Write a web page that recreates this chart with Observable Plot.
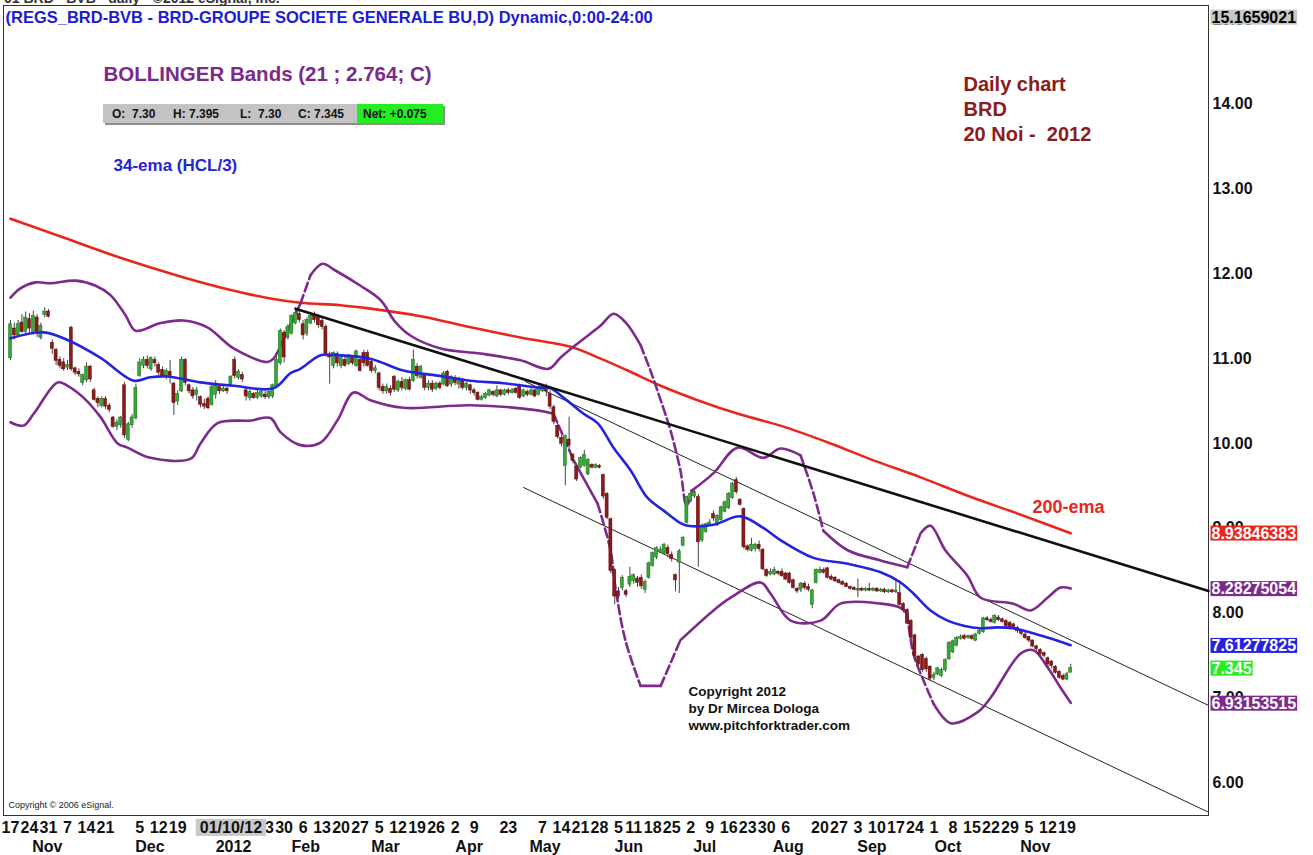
<!DOCTYPE html>
<html><head><meta charset="utf-8">
<script src="https://cdn.jsdelivr.net/npm/d3@7"></script>
<script src="https://cdn.jsdelivr.net/npm/@observablehq/plot@0.6"></script>
<style>
body{margin:0;background:#fff;}
#wrap{position:relative;width:1313px;height:855px;overflow:hidden;font-family:"Liberation Sans",Arial,sans-serif;background:#fff;}
#wrap svg{position:absolute;left:0;top:0;}
#topcut{position:absolute;left:4px;top:-10px;font-size:14px;font-weight:bold;color:#333;white-space:pre;}
#ohlc{position:absolute;left:103px;top:104px;width:340px;height:19px;background:#c3c3c3;box-shadow:2px 2px 0 #8d8d8d;font-size:12px;font-weight:bold;color:#111;}
#ohlc span{position:absolute;top:3px;white-space:pre;}
#ohlc .net{position:absolute;left:254px;top:0;width:86px;height:19px;background:#22ee22;}
g[aria-label="y-axis tick label"]{font-weight:bold;}
</style></head>
<body>
<div id="wrap">
  <div id="topcut">01 BRD - BVB - daily - ©2012 eSignal, Inc.</div>
</div>
<script>
// ---- daily candles (bar index 0 = 17 Oct 2011 ... 279 = 20 Nov 2012) ----
const open = [
11.01,11.35,11.28,11.42,11.32,11.46,11.32,11.48,11.25,11.52,
11.55,11.18,11.10,10.98,10.95,10.90,11.36,10.88,10.84,10.72,
10.75,10.90,10.62,10.52,10.45,10.52,10.44,10.30,10.20,10.22,
10.68,10.05,10.22,10.30,10.80,10.92,10.98,10.88,10.98,10.92,
10.86,10.80,10.84,10.70,10.50,10.62,10.98,10.68,10.62,10.58,
10.54,10.46,10.52,10.46,10.58,10.66,10.62,10.64,10.68,10.98,
10.78,10.80,10.62,10.54,10.58,10.54,10.56,10.57,10.55,10.56,
10.68,10.95,11.30,11.25,11.30,11.42,11.52,11.40,11.30,11.42,
11.50,11.48,11.44,11.37,11.04,10.92,11.05,10.92,10.98,10.94,
11.00,10.92,10.98,11.06,11.06,10.96,10.86,10.82,10.66,10.62,
10.64,10.78,10.63,10.72,10.65,10.74,10.74,10.90,10.78,10.80,
10.66,10.70,10.65,10.70,10.70,10.84,10.70,10.76,10.70,10.74,
10.66,10.68,10.62,10.59,10.52,10.54,10.57,10.60,10.56,10.62,
10.58,10.62,10.60,10.64,10.68,10.56,10.60,10.58,10.62,10.58,
10.62,10.66,10.58,10.42,10.20,10.06,9.74,10.04,9.86,9.72,
9.72,9.74,9.64,9.74,9.72,9.73,9.62,9.40,9.10,8.50,
8.25,8.30,8.25,8.34,8.38,8.40,8.41,8.28,8.42,8.56,
8.66,8.72,8.70,8.76,8.68,8.44,8.60,8.80,9.07,9.32,
9.38,9.36,8.86,8.96,9.04,9.16,9.04,9.10,9.20,9.24,
9.36,9.56,9.33,9.22,8.78,8.74,8.76,8.80,8.74,8.50,
8.46,8.46,8.48,8.48,8.46,8.46,8.38,8.28,8.28,8.34,
8.30,8.10,8.36,8.48,8.50,8.52,8.42,8.41,8.38,8.36,
8.34,8.30,8.29,8.27,8.28,8.27,8.28,8.27,8.28,8.26,
8.27,8.25,8.26,8.25,8.23,8.10,8.03,7.90,7.73,7.48,
7.50,7.45,7.36,7.24,7.28,7.26,7.33,7.46,7.54,7.62,
7.70,7.72,7.71,7.72,7.68,7.76,7.78,7.93,7.91,7.89,
7.94,7.92,7.90,7.88,7.86,7.82,7.78,7.74,7.71,7.67,
7.60,7.56,7.52,7.46,7.42,7.36,7.30,7.25,7.22,7.30];
const high = [
11.45,11.42,11.45,11.52,11.55,11.53,11.56,11.52,11.42,11.60,
11.58,11.22,11.12,11.02,11.00,10.98,11.38,10.90,10.88,10.82,
10.95,10.92,10.65,10.55,10.55,10.55,10.47,10.32,10.28,10.32,
10.72,10.25,10.34,10.70,11.00,11.02,11.03,11.02,11.02,10.95,
10.90,10.88,10.98,10.72,10.62,11.02,11.00,10.70,10.66,10.66,
10.56,10.52,10.55,10.70,10.74,10.68,10.68,10.66,10.80,11.02,
10.87,10.84,10.65,10.63,10.60,10.62,10.62,10.61,10.62,10.70,
11.02,11.35,11.33,11.40,11.52,11.60,11.56,11.45,11.48,11.54,
11.55,11.52,11.49,11.40,11.08,11.08,11.08,11.04,11.02,11.05,
11.03,11.10,11.02,11.10,11.10,11.00,10.92,10.84,10.70,10.70,
10.68,10.80,10.75,10.78,10.76,10.78,11.10,10.94,10.92,10.82,
10.74,10.74,10.72,10.73,10.85,10.86,10.80,10.80,10.78,10.77,
10.72,10.70,10.65,10.61,10.57,10.60,10.64,10.62,10.68,10.64,
10.64,10.65,10.65,10.66,10.70,10.64,10.63,10.66,10.64,10.68,
10.70,10.70,10.62,10.45,10.24,10.10,10.10,10.31,9.88,9.74,
9.84,9.92,9.82,9.76,9.76,9.75,9.64,9.42,9.12,8.52,
8.30,8.44,8.28,8.54,8.46,8.43,8.45,8.39,8.60,8.72,
8.78,8.78,8.82,8.80,8.72,8.46,8.75,8.90,9.38,9.45,
9.45,9.40,9.05,9.06,9.10,9.20,9.16,9.26,9.32,9.42,
9.54,9.60,9.35,9.24,8.80,8.88,8.82,8.85,8.76,8.52,
8.52,8.54,8.50,8.52,8.48,8.48,8.40,8.30,8.36,8.37,
8.34,8.28,8.52,8.54,8.53,8.54,8.45,8.43,8.40,8.38,
8.36,8.32,8.31,8.40,8.30,8.30,8.35,8.30,8.30,8.29,
8.29,8.28,8.28,8.40,8.38,8.12,8.05,7.92,7.75,7.50,
7.52,7.48,7.38,7.30,7.36,7.35,7.46,7.66,7.68,7.72,
7.74,7.75,7.74,7.74,7.76,7.81,7.95,7.96,7.94,7.98,
7.97,7.94,7.92,7.90,7.88,7.84,7.80,7.78,7.72,7.68,
7.62,7.58,7.54,7.48,7.44,7.38,7.32,7.28,7.30,7.395];
const low = [
10.98,11.22,11.25,11.30,11.28,11.30,11.28,11.25,11.22,11.48,
11.48,11.05,10.92,10.88,10.85,10.86,10.85,10.80,10.78,10.68,
10.72,10.72,10.50,10.42,10.42,10.40,10.36,10.18,10.15,10.18,
10.06,10.02,10.18,10.28,10.78,10.88,10.88,10.85,10.90,10.80,
10.78,10.75,10.70,10.33,10.45,10.60,10.68,10.58,10.52,10.50,
10.42,10.40,10.40,10.44,10.52,10.58,10.60,10.58,10.66,10.76,
10.75,10.72,10.50,10.50,10.52,10.52,10.53,10.52,10.52,10.53,
10.66,10.92,10.95,11.22,11.28,11.40,11.42,11.22,11.26,11.40,
11.42,11.36,11.34,11.02,10.70,10.88,10.90,10.88,10.90,10.92,
10.92,10.90,10.84,10.90,10.90,10.83,10.82,10.62,10.58,10.58,
10.56,10.60,10.60,10.62,10.62,10.62,10.72,10.76,10.76,10.62,
10.62,10.60,10.62,10.63,10.68,10.66,10.66,10.68,10.64,10.63,
10.62,10.58,10.56,10.50,10.50,10.52,10.55,10.55,10.54,10.55,
10.56,10.57,10.58,10.58,10.52,10.54,10.55,10.56,10.54,10.56,
10.60,10.55,10.40,10.22,10.05,9.96,9.50,9.94,9.76,9.55,
9.70,9.72,9.62,9.70,9.70,9.70,9.34,9.10,8.46,8.10,
8.16,8.26,8.18,8.30,8.34,8.30,8.28,8.23,8.40,8.54,
8.63,8.70,8.68,8.65,8.60,8.25,8.23,8.78,9.05,9.30,
9.35,8.54,8.83,8.94,9.02,9.08,9.02,9.08,9.18,9.22,
9.34,9.40,9.26,8.75,8.72,8.72,8.72,8.72,8.50,8.42,
8.44,8.44,8.44,8.42,8.38,8.34,8.28,8.23,8.24,8.27,
8.25,8.05,8.34,8.46,8.46,8.40,8.38,8.36,8.34,8.32,
8.30,8.27,8.26,8.18,8.25,8.25,8.25,8.25,8.24,8.24,
8.23,8.23,8.23,8.23,8.08,8.00,7.86,7.68,7.46,7.36,
7.30,7.30,7.20,7.20,7.26,7.24,7.30,7.44,7.52,7.60,
7.68,7.68,7.69,7.68,7.66,7.74,7.76,7.90,7.88,7.87,
7.90,7.88,7.83,7.80,7.80,7.76,7.73,7.69,7.65,7.59,
7.55,7.49,7.47,7.36,7.34,7.28,7.22,7.20,7.20,7.30];
const close = [
11.40,11.28,11.40,11.32,11.48,11.36,11.50,11.30,11.38,11.55,
11.50,11.12,10.98,10.92,10.88,10.92,10.88,10.84,10.82,10.80,
10.90,10.76,10.52,10.48,10.52,10.44,10.40,10.20,10.24,10.30,
10.10,10.22,10.30,10.65,10.95,10.98,10.92,11.00,10.95,10.84,
10.80,10.85,10.80,10.48,10.58,10.98,10.72,10.62,10.56,10.62,
10.46,10.44,10.42,10.66,10.70,10.62,10.64,10.62,10.78,10.80,
10.84,10.76,10.56,10.60,10.54,10.59,10.60,10.55,10.60,10.68,
10.98,11.32,11.02,11.37,11.50,11.53,11.46,11.28,11.45,11.50,
11.46,11.40,11.38,11.06,11.02,11.06,10.95,11.00,10.92,11.02,
10.95,11.08,10.86,10.95,10.92,10.86,10.88,10.66,10.62,10.66,
10.60,10.64,10.72,10.66,10.74,10.64,10.98,10.80,10.90,10.66,
10.70,10.64,10.70,10.66,10.82,10.68,10.78,10.72,10.76,10.66,
10.70,10.63,10.60,10.52,10.54,10.58,10.62,10.58,10.62,10.58,
10.62,10.60,10.62,10.60,10.54,10.62,10.58,10.62,10.56,10.65,
10.68,10.62,10.44,10.26,10.08,10.00,10.08,9.98,9.80,9.58,
9.82,9.86,9.80,9.72,9.74,9.72,9.38,9.13,8.50,8.20,
8.20,8.41,8.22,8.42,8.44,8.36,8.32,8.36,8.58,8.70,
8.76,8.74,8.80,8.70,8.64,8.39,8.72,8.88,9.36,9.40,
9.42,8.84,9.02,9.04,9.06,9.12,9.14,9.24,9.30,9.40,
9.52,9.43,9.28,8.78,8.75,8.80,8.80,8.76,8.52,8.44,
8.48,8.50,8.47,8.44,8.40,8.36,8.30,8.26,8.34,8.30,
8.28,8.26,8.50,8.50,8.48,8.42,8.40,8.38,8.36,8.34,
8.31,8.29,8.28,8.28,8.27,8.28,8.27,8.28,8.26,8.27,
8.25,8.26,8.25,8.26,8.10,8.04,7.88,7.71,7.50,7.40,
7.33,7.34,7.23,7.26,7.34,7.32,7.44,7.64,7.66,7.70,
7.71,7.70,7.72,7.70,7.74,7.78,7.93,7.92,7.90,7.96,
7.92,7.90,7.85,7.82,7.83,7.79,7.76,7.71,7.68,7.61,
7.58,7.52,7.50,7.40,7.38,7.30,7.24,7.22,7.27,7.345];

// ---- indicator readings [bar index, value] ----
const ema200 = [[0,12.65],[13.2,12.44],[28.9,12.19],[44.7,11.97],[57.1,11.82],[68.4,11.71],[76.3,11.66],[86.8,11.63],[94.7,11.59],[107.9,11.50],[121.1,11.37],[134.2,11.25],[147.4,11.14],[155.3,11.00],[162.4,10.86],[171.1,10.68],[180.8,10.51],[192.1,10.34],[202.6,10.21],[215.8,10.00],[227.1,9.80],[239.5,9.60],[252.6,9.37],[265.8,9.16],[279,8.94]];
const ema34 = [[0,11.24],[8.7,11.31],[15,11.22],[23.7,11.01],[32.4,10.74],[36.8,10.78],[41.3,10.79],[50,10.72],[58.7,10.68],[69.2,10.65],[73.7,10.83],[76.3,10.88],[81.6,11.04],[86,11.04],[94.7,11.00],[103.4,10.86],[112.4,10.80],[121,10.74],[129.7,10.71],[138.7,10.66],[142.1,10.65],[145.5,10.54],[150.8,10.35],[154.5,10.24],[158.7,9.95],[163.2,9.68],[167.6,9.36],[171.8,9.21],[176.3,9.06],[178.2,9.03],[185,9.04],[192.1,9.14],[198.2,9.00],[202.6,8.86],[211.3,8.65],[220.3,8.58],[229,8.48],[234.2,8.36],[237.6,8.23],[242.1,8.03],[246.6,7.91],[250.8,7.85],[255.3,7.82],[259.7,7.83],[263.9,7.82],[268.4,7.77],[272.9,7.71],[279,7.62]];
const bbUpper = [[0,11.72],[2.6,11.83],[6.6,11.90],[10.5,11.89],[17.1,11.92],[22.4,11.86],[26.3,11.75],[30.3,11.51],[32.9,11.33],[39.5,11.42],[45.5,11.45],[51.8,11.37],[58.7,11.12],[67.6,10.96],[69.2,11.00],[72.9,11.33],[76.3,11.65],[78.9,11.98],[82.1,12.12],[85.5,12.04],[92.1,11.86],[97.4,11.69],[101.3,11.43],[105.3,11.27],[113.2,11.12],[123.7,11.06],[134.2,10.98],[141.6,10.88],[144.7,11.01],[148.7,11.16],[155.3,11.39],[158.7,11.53],[161.8,11.43],[165.8,11.16],[168.4,10.86],[171.1,10.51],[173.7,10.15],[176.3,9.68],[177.9,9.27],[179.5,9.45],[185,9.65],[191.3,9.95],[198.2,9.83],[202.6,9.94],[207.9,9.86],[211.3,9.41],[213.9,8.97],[220.3,8.74],[229,8.62],[236,8.54],[239.5,8.94],[242.1,9.03],[246,8.74],[251.8,8.44],[255.3,8.18],[263.9,8.11],[268.4,8.03],[272.9,8.18],[276.3,8.30],[279,8.29]];
const bbLower = [[0,10.25],[3.4,10.21],[6.1,10.35],[12.4,10.72],[15,10.68],[19.2,10.54],[23.7,10.31],[28.2,10.00],[30.8,9.95],[36.8,9.83],[47.4,9.82],[50,10.00],[54.5,10.24],[63.2,10.27],[68.4,10.30],[71.1,10.13],[76.3,9.98],[81.6,10.01],[86,10.27],[90.3,10.60],[94.7,10.51],[103.4,10.42],[121,10.45],[138.7,10.39],[142.9,10.35],[148.2,9.80],[154.5,9.29],[157.9,8.74],[159.2,8.30],[161.8,7.68],[165.8,7.14],[171.1,7.14],[176.3,7.68],[185,8.03],[189.5,8.18],[197.4,8.36],[200,8.23],[205.3,7.91],[213.2,7.91],[218.4,8.11],[229,8.11],[234.2,8.06],[236,7.99],[237.6,7.52],[240.3,7.20],[242.9,6.93],[247.4,6.70],[254.5,6.83],[257.9,7.00],[265.8,7.52],[269.2,7.56],[272.9,7.36],[276.3,7.12],[279,6.94]];

// ---- drawn trend lines [bar index, value] ----
const trendMain = [[75,11.59],[315.26,8.26]];
const channelUpper = [[135.5,10.73],[315.26,6.91]];
const channelLower = [[135,9.48],[315.26,5.65]];

// ---- last values shown on the price axis ----
const cursorValue = {series: "cursor", value: 15.1659021};
const lastValues = [
  {series: "ema200", value: 8.93846383},
  {series: "upper", value: 8.28275054},
  {series: "ema34", value: 7.61277825},
  {series: "price", value: close[close.length - 1]},
  {series: "lower", value: 6.93153515}
];

// ---- axis ticks ----
const yTicks = [6,7,8,9,10,11,12,13,14,15];
const weekIdx = [0,5,10,15,20,25,34,39,44,67,72,77,82,87,92,97,102,107,112,117,122,131,140,145,150,155,160,164,169,174,179,184,189,194,199,204,213,218,223,228,233,238,243,248,253,258,263,268,273,278];
const weekLabels = ["17","24","31","7","14","21","5","12","19","23","30","6","13","20","27","5","12","19","26","2","9","23","7","14","21","28","5","11","18","25","2","9","16","23","30","6","20","27","3","10","17","24","1","8","15","22","29","5","12","19"];
const monthIdx = [6,33,55,74,95,117,137,159,179,201,223,243,266];
const monthLabels = ["Nov","Dec","2012","Feb","Mar","Apr","May","Jun","Jul","Aug","Sep","Oct","Nov"];
const cursorDate = {i: 58, label: "01/10/12"};

// ---- styles ----
const C = {
  up: "#35a835", upEdge: "#1d6a1d", down: "#8c1a1a", downEdge: "#5a0c0c", wick: "#444",
  ema200: "#e8261c", ema34: "#2424e0", band: "#7d2a8c", trend: "#111"
};
const boxStyle = {
  cursor: ["#c8c8c8", "#000"], ema200: ["#e8261c", "#fff"], upper: ["#7d2a8c", "#fff"],
  ema34: ["#2424e0", "#fff"], price: ["#22ee22", "#fff"], lower: ["#7d2a8c", "#fff"]
};

const candles = open.map((o, i) => ({i, o, h: high[i], l: low[i], c: close[i]}));
const pts = a => a.map(([i, v]) => ({i, v}));
const weeks = weekIdx.map((i, k) => ({i, label: weekLabels[k]}));
const months = monthIdx.map((i, k) => ({i, label: monthLabels[k]}));

// split a band into normal and steep runs (steep runs are drawn dashed)
function splitRuns(arr, thr) {
  const out = [];
  let seg = 0, prev = null;
  for (let k = 0; k < arr.length - 1; k++) {
    const [i0, v0] = arr[k], [i1, v1] = arr[k + 1];
    const steep = Math.abs((v1 - v0) / (i1 - i0)) > thr;
    if (steep !== prev) { seg++; out.push({i: i0, v: v0, seg, steep}); prev = steep; }
    out.push({i: i1, v: v1, seg, steep});
  }
  return out;
}
const bandRuns = [...splitRuns(bbUpper, 0.1).map(d => ({...d, seg: "u" + d.seg})),
                  ...splitRuns(bbLower, 0.1).map(d => ({...d, seg: "l" + d.seg}))];

const font = "'Liberation Sans', Arial, sans-serif";
const ann = (text, dx, dy, o) => Plot.text([text], {frameAnchor: "top-left", textAnchor: "start", lineAnchor: "top", dx, dy, fontWeight: "bold", ...o});
const fmtVal = d => String(d.value);

const chart = Plot.plot({
  width: 1313, height: 855,
  marginLeft: 3, marginRight: 105, marginTop: 5, marginBottom: 40,
  x: {domain: [-1.842, 315.26], axis: null},
  y: {domain: [5.611, 15.166]},
  style: {fontFamily: font, fontSize: "16px", background: "transparent", overflow: "visible"},
  marks: [
    Plot.frame({stroke: "#333", strokeWidth: 1}),
    Plot.axisY({anchor: "right", ticks: yTicks, tickSize: 0, tickPadding: 4, tickFormat: d3.format(".2f"), fontSize: 16, fontWeight: "bold", fill: "#111"}),
    // channel lines
    Plot.line(pts(channelUpper), {x: "i", y: "v", stroke: "#222", strokeWidth: 1}),
    Plot.line(pts(channelLower), {x: "i", y: "v", stroke: "#222", strokeWidth: 1}),
    // indicators
    Plot.line(pts(ema200), {x: "i", y: "v", stroke: C.ema200, strokeWidth: 2.6, curve: "catmull-rom"}),
    Plot.line(bandRuns.filter(d => !d.steep), {x: "i", y: "v", z: "seg", stroke: C.band, strokeWidth: 2.6, curve: "catmull-rom"}),
    Plot.line(bandRuns.filter(d => d.steep), {x: "i", y: "v", z: "seg", stroke: C.band, strokeWidth: 2.6, strokeDasharray: "9,4", curve: "catmull-rom"}),
    // candles
    Plot.ruleX(candles, {x: "i", y1: "l", y2: "h", stroke: C.wick, strokeWidth: 1}),
    Plot.rect(candles.filter(d => d.c >= d.o), {x1: d => d.i - 0.4, x2: d => d.i + 0.4, y1: "o", y2: "c", fill: C.up, stroke: C.upEdge, strokeWidth: 0.5, insetTop: -0.5, insetBottom: -0.5}),
    Plot.rect(candles.filter(d => d.c < d.o), {x1: d => d.i - 0.4, x2: d => d.i + 0.4, y1: "o", y2: "c", fill: C.down, stroke: C.downEdge, strokeWidth: 0.5, insetTop: -0.5, insetBottom: -0.5}),
    Plot.line(pts(ema34), {x: "i", y: "v", stroke: C.ema34, strokeWidth: 2.6, curve: "catmull-rom"}),
    Plot.line(pts(trendMain), {x: "i", y: "v", stroke: C.trend, strokeWidth: 2.6}),
    // bottom axis labels
    Plot.text(weeks, {x: "i", text: "label", frameAnchor: "bottom", dy: 6, lineAnchor: "top", fontSize: 16, fontWeight: "bold", fill: "#111"}),
    Plot.text(months, {x: "i", text: "label", frameAnchor: "bottom", dx: 14, dy: 25, lineAnchor: "top", fontSize: 16, fontWeight: "bold", fill: "#111"}),
    Plot.text([cursorDate], {x: "i", text: "label", frameAnchor: "bottom", dy: 6, lineAnchor: "top", fontSize: 16, fontWeight: "bold", fill: "#111"}),
    // value boxes on the price axis
    Plot.text([cursorValue], {x: 315.26, y: "value", text: fmtVal, dx: 3, dy: 12, textAnchor: "start", lineAnchor: "middle", fontSize: 16, fontWeight: "bold", fill: boxStyle.cursor[1]}),
    Plot.text(lastValues, {x: 315.26, y: "value", text: fmtVal, dx: 3, textAnchor: "start", lineAnchor: "middle", fontSize: 16, fontWeight: "bold", fill: d => boxStyle[d.series][1]}),
    // annotations
    ann("(REGS_BRD-BVB - BRD-GROUPE SOCIETE GENERALE BU,D) Dynamic,0:00-24:00", 2, 6, {fontSize: 16.5, fill: "#1b1bd8"}),
    ann("BOLLINGER Bands (21 ; 2.764; C)", 100, 61, {fontSize: 20.5, fill: "#7b2a8a"}),
    ann("34-ema (HCL/3)", 110, 153, {fontSize: 17, fill: "#2424d8"}),
    ann("Daily chart\nBRD\n20 Noi - \u00a02012", 960, 68, {fontSize: 20, lineHeight: 1.25, fill: "#8b1c1c"}),
    ann("200-ema", 1029, 495, {fontSize: 18, fill: "#e8261c"}),
    ann("Copyright 2012\nby Dr Mircea Dologa\nwww.pitchforktrader.com", 685, 678, {fontSize: 13.5, lineHeight: 1.26, fill: "#111"}),
    ann("Copyright © 2006 eSignal.", 5, 796, {fontSize: 9, fontWeight: "normal", fill: "#222"})
  ]
});

const wrap = document.getElementById("wrap");
wrap.insertBefore(chart, wrap.firstChild);

// background boxes behind value labels and the cursor date (found by their text)
function boxByText(str, fill, padX, padY) {
  for (const t of chart.querySelectorAll("text")) {
    if (t.textContent !== str) continue;
    const b = t.getBBox();
    const r = document.createElementNS("http://www.w3.org/2000/svg", "rect");
    r.setAttribute("x", b.x - padX);
    r.setAttribute("y", b.y - padY);
    r.setAttribute("width", b.width + 2 * padX);
    r.setAttribute("height", b.height + 2 * padY);
    r.setAttribute("fill", fill);
    if (t.getAttribute("transform")) r.setAttribute("transform", t.getAttribute("transform"));
    t.parentNode.insertBefore(r, t);
  }
}
boxByText(fmtVal(cursorValue), boxStyle.cursor[0], 1, -1);
lastValues.forEach(d => boxByText(fmtVal(d), boxStyle[d.series][0], 1, -1));
boxByText(cursorDate.label, "#c8c8c8", 4, 0);

// OHLC status bar from the last candle
const last = candles[candles.length - 1];
const prevClose = close[close.length - 2];
const fp = p => Math.abs(p * 100 - Math.round(p * 100)) < 1e-6 ? p.toFixed(2) : p.toFixed(3);
const net = last.c - prevClose;
const bar = document.createElement("div");
bar.id = "ohlc";
bar.innerHTML = `<div class="net"></div>
<span style="left:9px">O:  ${fp(last.o)}</span>
<span style="left:70px">H: ${fp(last.h)}</span>
<span style="left:137px">L:  ${fp(last.l)}</span>
<span style="left:195px">C: ${fp(last.c)}</span>
<span style="left:260px">Net: ${net >= 0 ? "+" : ""}${net.toFixed(3)}</span>`;
wrap.appendChild(bar);
</script>
</body></html>
